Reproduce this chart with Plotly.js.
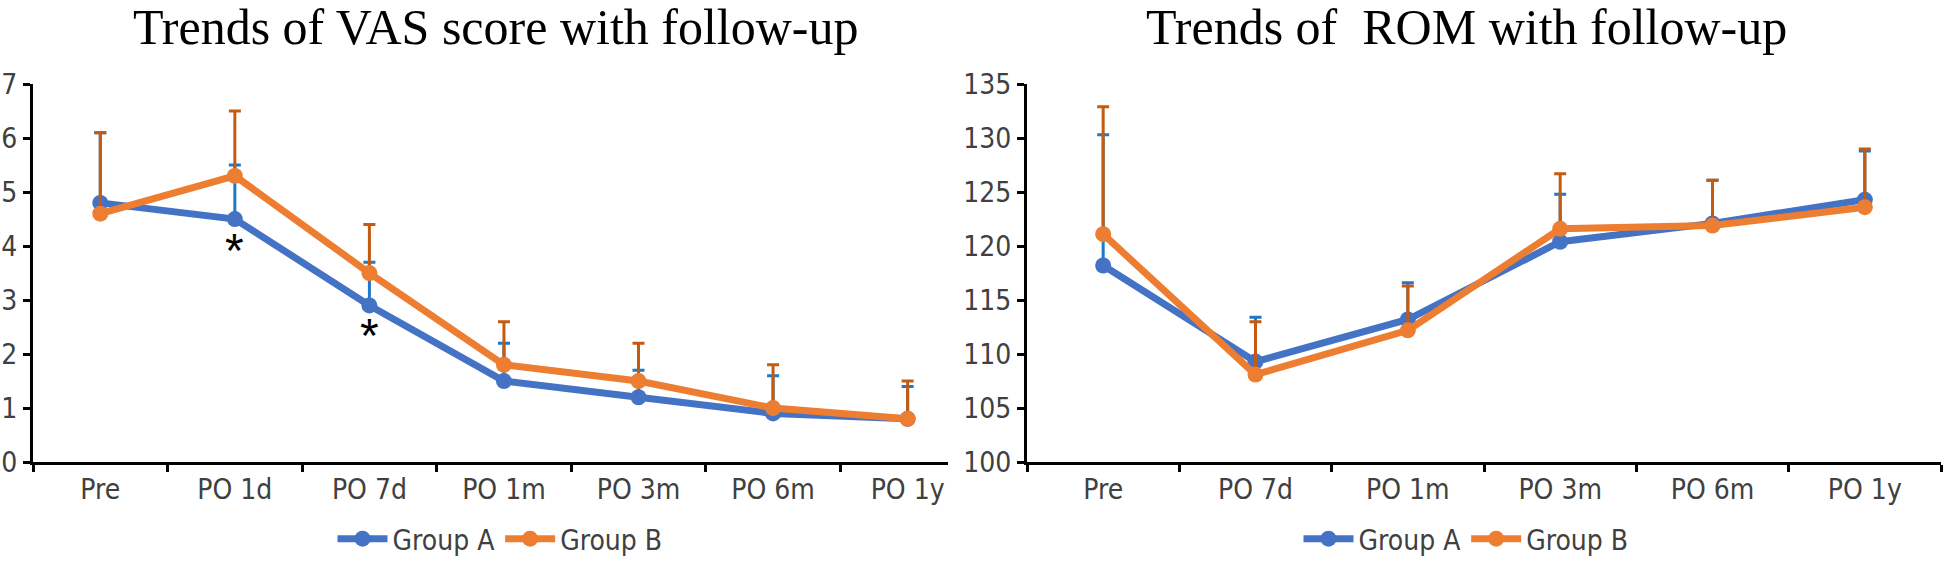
<!DOCTYPE html>
<html>
<head>
<meta charset="utf-8">
<script src="https://cdn.plot.ly/plotly-3.0.1.min.js"></script>
<style>html,body{margin:0;padding:0;background:#fff;}#chart{width:1946px;height:564px;}</style>
</head>
<body>
<div id="chart"></div>
<script>
// ---- data ----
const vasCategories = ["Pre", "PO 1d", "PO 7d", "PO 1m", "PO 3m", "PO 6m", "PO 1y"];
const vasGroupA = [4.8, 4.5, 2.9, 1.5, 1.2, 0.9, 0.8];
const vasGroupB = [4.6, 5.3, 3.5, 1.8, 1.5, 1.0, 0.8];
const vasErrA = [1.3, 1.0, 0.8, 0.7, 0.5, 0.7, 0.6];
const vasErrB = [1.5, 1.2, 0.9, 0.8, 0.7, 0.8, 0.7];
const vasStarCategories = ["PO 1d", "PO 7d"];
const vasStarValues = [4.06, 2.5];

const romCategories = ["Pre", "PO 7d", "PO 1m", "PO 3m", "PO 6m", "PO 1y"];
const romGroupA = [118.2, 109.3, 113.2, 120.4, 122.1, 124.3];
const romGroupB = [121.1, 108.1, 112.2, 121.6, 121.9, 123.6];
const romErrA = [12.1, 4.1, 3.4, 4.4, 4.0, 4.5];
const romErrB = [11.8, 4.9, 4.1, 5.1, 4.2, 5.4];

const seriesNames = ["Group A", "Group B"];
const titles = ["Trends of VAS score with follow-up", "Trends of&nbsp; ROM with follow-up"];

// ---- styling ----
const colA = "#4472C4", colB = "#ED7D31";
const errColA = "#1F78C8", errColB = "#C55A11";
const narrow = "Liberation Sans Narrow, Arial Narrow, DejaVu Sans Condensed, Liberation Sans, sans-serif";
const tickFont = {family: narrow, size: 28, color: "#404040"};

function zeros(n){ return new Array(n).fill(0); }
function mkTrace(cats, vals, errs, name, col, ecol, xa, ya, leg){
  return {
    type: "scatter", mode: "lines+markers", x: cats, y: vals, name: name,
    xaxis: xa, yaxis: ya, legend: leg,
    line: {color: col, width: 7},
    marker: {color: col, size: 16},
    error_y: {type: "data", symmetric: false, array: errs, arrayminus: zeros(errs.length),
              color: ecol, thickness: 3, width: 6}
  };
}

const data = [
  mkTrace(vasCategories, vasGroupA, vasErrA, seriesNames[0], colA, errColA, "x", "y", "legend"),
  mkTrace(vasCategories, vasGroupB, vasErrB, seriesNames[1], colB, errColB, "x", "y", "legend"),
  mkTrace(romCategories, romGroupA, romErrA, seriesNames[0], colA, errColA, "x2", "y2", "legend2"),
  mkTrace(romCategories, romGroupB, romErrB, seriesNames[1], colB, errColB, "x2", "y2", "legend2")
];

const W = 1946, H = 564;
const yDom = [(H - 467) / H, (H - 85) / H];

function xAxis(dom, cats, rng, anchor){
  return {
    domain: dom, anchor: anchor, type: "category", categoryarray: cats, categoryorder: "array",
    range: rng, tickson: "boundaries", ticks: "outside", ticklen: 7, tickwidth: 3, tickcolor: "#000",
    showline: true, linecolor: "#000", linewidth: 3, showgrid: false, zeroline: false,
    tickfont: tickFont, fixedrange: true
  };
}
function yAxis(rng, dt, anchor){
  return {
    domain: yDom, anchor: anchor, range: rng, dtick: dt, tick0: rng[0], ticks: "outside", ticklen: 7,
    tickwidth: 3, tickcolor: "#000", showline: true, linecolor: "#000", linewidth: 3,
    showgrid: false, zeroline: false, tickfont: tickFont, fixedrange: true, ticklabelstandoff: 0
  };
}

const annotations = [
  {xref: "paper", yref: "paper", x: 496 / W, y: (H - 27) / H, xanchor: "center", yanchor: "middle",
   text: titles[0], showarrow: false, font: {family: "Liberation Serif, Times New Roman, serif", size: 50, color: "#000"}},
  {xref: "paper", yref: "paper", x: 1466 / W, y: (H - 27) / H, xanchor: "center", yanchor: "middle",
   text: titles[1], showarrow: false, font: {family: "Liberation Serif, Times New Roman, serif", size: 50, color: "#000"}}
];
vasStarCategories.forEach((c, i) => {
  annotations.push({xref: "x", yref: "y", x: c, y: vasStarValues[i], text: "*", showarrow: false,
    xanchor: "center", yanchor: "middle", yshift: -8,
    font: {family: "Liberation Sans, Arial, sans-serif", size: 48, color: "#000"}});
});

const legendBase = {orientation: "h", xanchor: "center", yanchor: "middle", y: (H - 545) / H,
  font: {family: narrow, size: 28, color: "#404040"},
  bgcolor: "rgba(0,0,0,0)", itemwidth: 50, tracegroupgap: 0};

const layout = {
  width: W, height: H, margin: {l: 0, r: 0, t: 0, b: 0},
  paper_bgcolor: "#fff", plot_bgcolor: "#fff", showlegend: true,
  xaxis: xAxis([33 / W, 948 / W], vasCategories, [-0.5, 6.3], "y"),
  yaxis: yAxis([0, 7], 1, "x"),
  xaxis2: xAxis([1027 / W, 1941 / W], romCategories, [-0.5, 5.5], "y2"),
  yaxis2: yAxis([100, 135], 5, "x2"),
  legend: Object.assign({}, legendBase, {x: 500 / W}),
  legend2: Object.assign({}, legendBase, {x: 1466 / W}),
  annotations: annotations
};

Plotly.newPlot("chart", data, layout, {displayModeBar: false, staticPlot: true});
</script>
</body>
</html>
